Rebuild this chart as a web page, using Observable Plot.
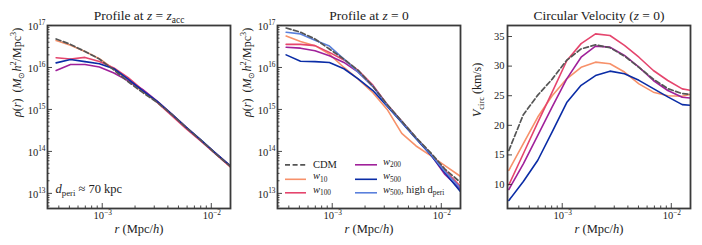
<!DOCTYPE html>
<html><head><meta charset="utf-8">
<script src="https://cdn.jsdelivr.net/npm/d3@7"></script>
<script src="https://cdn.jsdelivr.net/npm/@observablehq/plot@0.6"></script>
<style>
body{margin:0;background:#fff;}
#wrap{position:relative;width:702px;height:245px;overflow:hidden;}
#wrap svg{position:absolute;top:0;}
svg text{white-space:pre;}
</style></head><body><div id="wrap"></div>
<script>
// ---------- data ----------
// radii (Mpc/h): profile bins and circular-velocity radii
const rProf = [3.78e-4, 5.12e-4, 6.95e-4, 9.42e-4, 1.28e-3, 1.73e-3, 2.36e-3, 3.19e-3, 4.34e-3, 5.87e-3, 7.98e-3, 1.08e-2, 1.47e-2, 1.99e-2];
const rVc   = [3.24e-4, 4.40e-4, 5.97e-4, 8.09e-4, 1.10e-3, 1.49e-3, 2.02e-3, 2.74e-3, 3.72e-3, 5.05e-3, 6.85e-3, 9.29e-3, 1.26e-2, 1.71e-2];

// Panel 1: log10 rho at z = z_acc
const accCDM  = [16.68, 16.55, 16.38, 16.20, 15.94, 15.66, 15.40, 15.17, 14.88, 14.57, 14.27, 13.96, 13.66, 13.35];
const accW10  = [16.64, 16.53, 16.38, 16.21, 15.96, 15.69, 15.42, 15.18, 14.88, 14.57, 14.27, 13.96, 13.65, 13.34];
const accW100 = [16.23, 16.20, 16.24, 16.14, 15.99, 15.76, 15.46, 15.17, 14.85, 14.54, 14.25, 13.95, 13.65, 13.33];
const accW200 = [15.93, 16.07, 16.07, 16.01, 15.87, 15.68, 15.47, 15.20, 14.89, 14.58, 14.27, 13.97, 13.67, 13.36];
const accW500 = [16.11, 16.19, 16.14, 16.09, 15.97, 15.72, 15.44, 15.19, 14.89, 14.58, 14.28, 13.97, 13.67, 13.36];

// Panel 2: log10 rho at z = 0
const z0CDM    = [16.94, 16.84, 16.68, 16.44, 16.20, 15.93, 15.55, 15.12, 14.72, 14.33, 13.97, 13.58, 13.28, 12.98];
const z0W10    = [16.75, 16.62, 16.52, 16.32, 16.00, 15.72, 15.40, 15.00, 14.43, 14.13, 13.90, 13.66, 13.42, 13.18];
const z0W100   = [16.55, 16.55, 16.52, 16.36, 16.18, 15.93, 15.58, 15.12, 14.72, 14.32, 13.95, 13.55, 13.19, 12.85];
const z0W200   = [16.48, 16.46, 16.40, 16.28, 16.12, 15.89, 15.55, 15.10, 14.71, 14.32, 13.93, 13.45, 13.12, 12.80];
const z0W500   = [16.30, 16.15, 16.14, 16.12, 15.97, 15.73, 15.45, 15.08, 14.69, 14.30, 13.92, 13.49, 13.07, 12.65];
const z0W500hi = [16.84, 16.80, 16.65, 16.51, 16.20, 15.89, 15.55, 15.10, 14.71, 14.32, 13.94, 13.52, 13.15, 12.80];

// Panel 3: circular velocity (km/s) at z = 0
const vcCDM  = [15.75, 21.8, 25.1, 27.8, 31.0, 32.9, 33.6, 33.1, 31.7, 29.8, 27.8, 26.2, 25.35, 25.1];
const vcW10  = [12.4, 16.9, 21.4, 25.0, 27.85, 29.8, 30.67, 30.4, 29.0, 27.0, 25.6, 25.0, 24.9, 25.5];
const vcW100 = [9.95, 15.2, 20.5, 25.6, 30.9, 33.8, 35.45, 35.17, 33.5, 31.5, 29.26, 27.57, 26.16, 25.7];
const vcW200 = [9.16, 13.5, 18.3, 23.1, 27.85, 31.5, 33.37, 33.2, 31.8, 29.82, 27.57, 25.88, 24.75, 24.5];
const vcW500 = [7.3, 10.5, 14.1, 18.9, 23.85, 26.75, 28.4, 29.15, 28.7, 27.6, 26.2, 24.8, 23.5, 23.3];

// tick values and labels
const xMajor = [1e-3, 1e-2];
const xMajorLabels = ["10^{\u22123}", "10^{\u22122}"];
const rhoExps = [13, 14, 15, 16, 17];
const vTicks = [10, 15, 20, 25, 30, 35];

const legendKeys = ["CDM", "w10", "w100", "w200", "w500", "w500hi"];
const legendLabels = ["CDM", "*w*_{10}", "*w*_{100}", "*w*_{200}", "*w*_{500}", "*w*_{500}, high d_{peri}"];

// ---------- style ----------
const colors = {CDM:"#555555", w10:"#f7916a", w100:"#e5456d", w200:"#a0219a", w500:"#0a2ca6", w500hi:"#5a80dc"};
const FONT = "Liberation Serif";
const TXT = "#222";
const W = 232, H = 245, ML = 47, MR = 2, MT = 25, MB = 37;
const FW = W - ML - MR, FH = H - MT - MB;
const xDomain = [3.15e-4, 1.50e-2];

function xMinor(){ const out=[]; for (let k=-4;k<=-2;k++) for (let m=2;m<=9;m++){const v=m*10**k; if(v>xDomain[0]&&v<xDomain[1]) out.push(v);} return out; }
function yMinorLog(dom){ const out=[]; for (let k=12;k<=16;k++) for (let m=2;m<=9;m++){const v=m*10**k; if(v>dom[0]&&v<dom[1]) out.push(v);} return out; }

function lines(x, list, isLog){
  return list.map(([key, vals]) => Plot.line(vals.map((v,i)=>({r:x[i], v: isLog ? 10**v : v})), {
    x:"r", y:"v", stroke: colors[key], strokeWidth: 1.6, clip: true, strokeLinejoin:"round",
    ...(key==="CDM" ? {strokeDasharray:"5,2.6", strokeWidth:1.7} : {})
  }));
}

function panel({left, title, ylabel, isLog, yDomain, series, x, extra=[]}){
  const tickCommon = {stroke:"#333", strokeWidth:0.9};
  const marks = [
    ...lines(x, series, isLog),
    Plot.frame({stroke:"#3a3a3a", strokeWidth:1.8}),
    Plot.tickX(xMajor, {x:d=>d, insetTop:FH-5, ...tickCommon}),
    Plot.tickX(xMinor(), {x:d=>d, insetTop:FH-2.5, ...tickCommon}),
    Plot.text(xMajor, {x:d=>d, text:(d,i)=>xMajorLabels[i], frameAnchor:"bottom", dy:7.5, dx:0.5, textAnchor:"middle", lineAnchor:"middle", fontSize:10.5, fill:TXT}),
    Plot.text(["*r* (Mpc/*h*)"], {frameAnchor:"bottom", dy:20, lineAnchor:"middle", fontSize:12.5, fill:TXT}),
    Plot.text([title], {frameAnchor:"top", dy:-10, lineAnchor:"middle", fontSize:13.5, fill:TXT}),
    Plot.text([ylabel], {frameAnchor:"left", dx:-30, rotate:-90, lineAnchor:"middle", fontSize:12, fill:TXT}),
    ...extra
  ];
  if (isLog) {
    const yt = rhoExps.map(e=>10**e);
    marks.push(Plot.tickY(yt, {y:d=>d, insetRight:FW-5, ...tickCommon}));
    marks.push(Plot.tickY(yMinorLog(yDomain), {y:d=>d, insetRight:FW-2.5, ...tickCommon}));
    marks.push(Plot.text(yt, {y:d=>d, text:d=>`10^{${Math.round(Math.log10(d))}}`, frameAnchor:"left", dx:-2, dy:1, textAnchor:"end", lineAnchor:"middle", fontSize:10.5, fill:TXT}));
  } else {
    marks.push(Plot.tickY(vTicks, {y:d=>d, insetRight:FW-5, ...tickCommon}));
    marks.push(Plot.text(vTicks, {y:d=>d, text:d=>String(d), frameAnchor:"left", dx:-3, textAnchor:"end", lineAnchor:"middle", fontSize:10.5, fill:TXT}));
  }
  const svg = Plot.plot({
    width:W, height:H, marginLeft:ML, marginRight:MR, marginTop:MT, marginBottom:MB,
    x:{type:"log", domain:xDomain, axis:null},
    y: isLog ? {type:"log", domain:yDomain, axis:null} : {type:"linear", domain:yDomain, axis:null},
    style:{fontFamily:FONT, fontSize:"10.5px", background:"none", overflow:"visible", color:TXT},
    marks
  });
  svg.style.left = left + "px";
  return svg;
}

// rich text: *italic*, ^{sup}, _{sub}
function richify(svg){
  svg.querySelectorAll("text").forEach(t=>{
    const s = t.textContent;
    if (!/[\^_*]/.test(s)) return;
    const base = parseFloat(getComputedStyle(t).fontSize) || 10.5;
    t.textContent = "";
    let italic=false, cur=0, buf="", i=0;
    const push=(str, mode)=>{
      if (!str) return;
      const ts = document.createElementNS("http://www.w3.org/2000/svg","tspan");
      let target=0, size=base;
      if (mode==="sup"){ target=-0.42*base; size=0.7*base; }
      if (mode==="sub"){ target=0.25*base; size=0.7*base; }
      ts.setAttribute("dy", (target-cur).toFixed(2)); cur=target;
      ts.setAttribute("font-size", size.toFixed(2));
      if (italic) ts.setAttribute("font-style","italic");
      ts.textContent = str; t.appendChild(ts);
    };
    while (i < s.length){
      const c = s[i];
      if (c==="*"){ push(buf,"n"); buf=""; italic=!italic; i++; }
      else if ((c==="^"||c==="_") && s[i+1]==="{"){ push(buf,"n"); buf=""; const j=s.indexOf("}", i); push(s.slice(i+2,j), c==="^"?"sup":"sub"); i=j+1; }
      else { buf+=c; i++; }
    }
    push(buf,"n");
  });
}

const rhoDomain = [10**12.64, 1e17];
const wrap = document.getElementById("wrap");

const p1 = panel({left:0, title:"Profile at *z* = *z*_{acc}", ylabel:"*ρ*(*r*)  (*M*_{⊙}*h*^{2}/Mpc^{3})", isLog:true, yDomain:rhoDomain, x:rProf,
  series:[["w10",accW10],["w100",accW100],["w200",accW200],["w500",accW500],["CDM",accCDM]],
  extra:[Plot.text(["*d*_{peri} ≈ 70 kpc"], {frameAnchor:"bottom-left", dx:8, dy:-20, textAnchor:"start", lineAnchor:"middle", fontSize:12.5, fill:TXT})]});
const p2 = panel({left:230, title:"Profile at *z* = 0", ylabel:"*ρ*(*r*)  (*M*_{⊙}*h*^{2}/Mpc^{3})", isLog:true, yDomain:rhoDomain, x:rProf,
  series:[["w10",z0W10],["w100",z0W100],["w200",z0W200],["w500",z0W500],["w500hi",z0W500hi],["CDM",z0CDM]]});
const p3 = panel({left:460, title:"Circular Velocity (*z* = 0)", ylabel:"*V*_{circ} (km/s)", isLog:false, yDomain:[5.95, 36.86], x:rVc,
  series:[["w10",vcW10],["w100",vcW100],["w200",vcW200],["w500",vcW500],["CDM",vcCDM]]});

// legend inside panel 2
(function(){
  const g = d3.select(p2).append("g").attr("font-family", FONT).attr("font-size", 10.5).attr("fill", TXT).attr("text-anchor","start");
  const rows = [164.8, 179.3, 192.8];
  legendKeys.forEach((k,i)=>{
    const col = Math.floor(i/3), row = i%3;
    const x0 = col ? 125 : 55, x1 = col ? 147 : 76, tx = col ? 153 : 83;
    g.append("line").attr("x1",x0).attr("x2",x1).attr("y1",rows[row]).attr("y2",rows[row])
      .attr("stroke",colors[k]).attr("stroke-width", k==="CDM"?1.7:1.6)
      .attr("stroke-dasharray", k==="CDM"?"5,2.6":null);
    g.append("text").attr("x",tx).attr("y",rows[row]).attr("dy","0.32em").attr("text-anchor","start").text(legendLabels[i]);
  });
})();

[p1,p2,p3].forEach(s=>wrap.appendChild(s));
[p1,p2,p3].forEach(richify);
</script></body></html>
